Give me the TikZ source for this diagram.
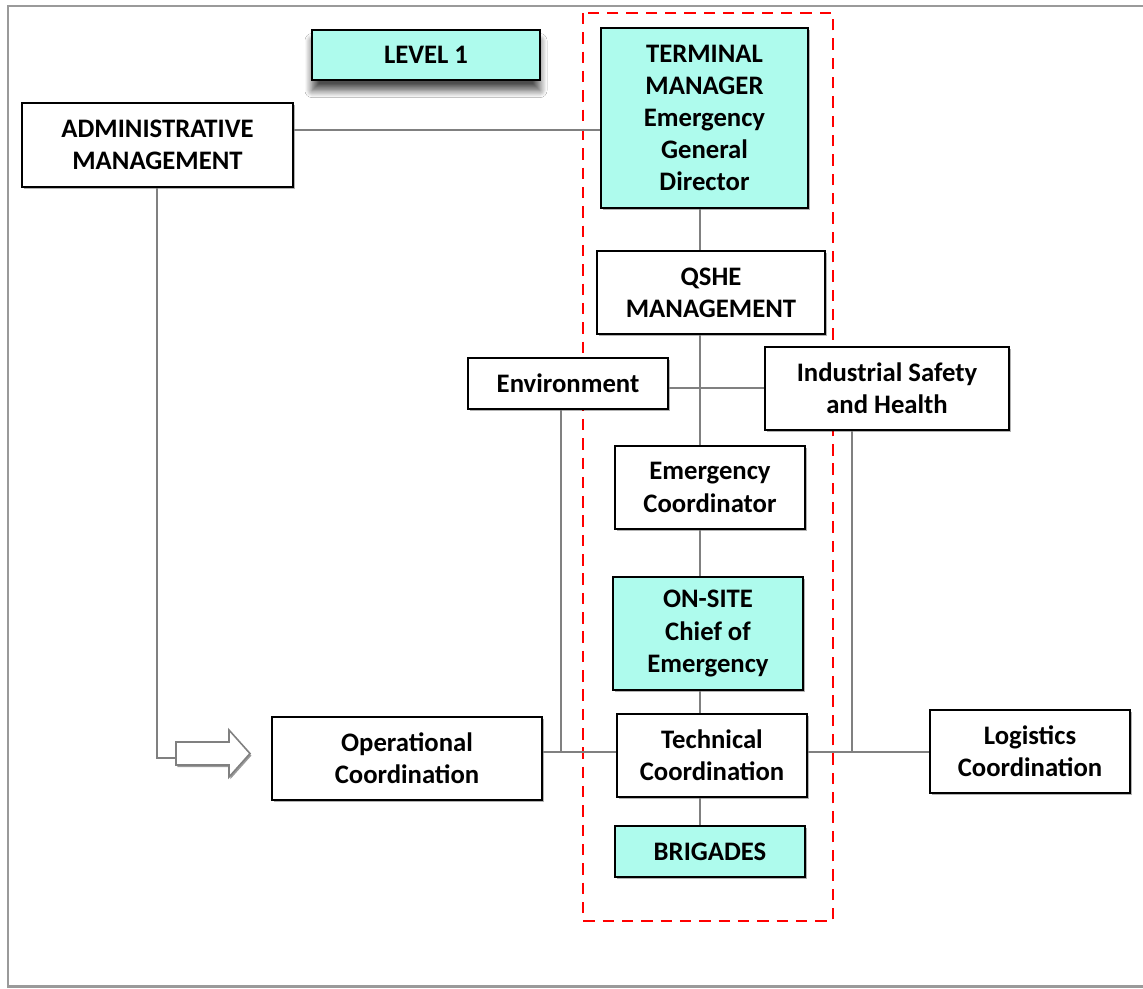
\documentclass[tikz,border=0pt]{standalone}
\usepackage{fontspec}
\setmainfont{Carlito}
\usetikzlibrary{shadows,shadows.blur}
\definecolor{cyanfill}{RGB}{174,251,237}
\definecolor{linegray}{RGB}{128,128,128}
\begin{document}
\begin{tikzpicture}[x=0.02cm,y=-0.02cm,
  box/.style={draw=black, line width=1.1pt, fill=white, align=center, inner sep=2pt,
    font=\fontsize{15.2}{18.3}\selectfont\bfseries,
    drop shadow={shadow xshift=1.2pt, shadow yshift=-1.2pt, opacity=0.3, fill=black}},
  cbox/.style={box, fill=cyanfill},
  conn/.style={draw=linegray, line width=1pt},
]
\useasboundingbox (0,0) rectangle (1143,988);
\fill[white] (0,0) rectangle (1143,988);
% outer frame (left, top, bottom visible)
\draw[linegray!80, line width=1.7pt] (1143,6) -- (8,6) -- (8,986) -- (1143,986);

% red dashed frame
\draw[red, line width=1.6pt, dash pattern=on 6.5pt off 4.5pt] (583,13) rectangle (833,921);

% nodes
\node[draw=black, line width=1.1pt, fill=cyanfill, align=center,
  font=\fontsize{15.2}{18.3}\selectfont\bfseries,
  minimum width=4.56cm, minimum height=1.0cm,
  blur shadow={shadow xshift=0pt, shadow yshift=-6pt, shadow opacity=70, shadow blur steps=10, shadow blur radius=4pt}] (lvl) at (426,55) {LEVEL 1};
\node[box, minimum width=5.42cm, minimum height=1.68cm] (admin) at (157.5,145) {ADMINISTRATIVE\\MANAGEMENT};
\node[cbox, minimum width=4.14cm, minimum height=3.6cm] (term) at (704.5,118) {TERMINAL\\MANAGER\\Emergency\\General\\Director};
\node[box, minimum width=4.56cm, minimum height=1.66cm] (qshe) at (711,292.5) {QSHE\\MANAGEMENT};
\node[box, minimum width=4.0cm, minimum height=1.02cm] (env) at (568,383.5) {Environment};
\node[box, minimum width=4.88cm, minimum height=1.66cm] (ind) at (887,388.5) {Industrial Safety\\and Health};
\node[box, minimum width=3.8cm, minimum height=1.66cm] (emc) at (710,487.5) {Emergency\\Coordinator};
\node[cbox, minimum width=3.8cm, minimum height=2.26cm] (onsite) at (708,633.5) {ON-SITE\\Chief of\\Emergency};
\node[box, minimum width=3.8cm, minimum height=1.66cm] (tech) at (712,755.5) {Technical\\Coordination};
\node[cbox, minimum width=3.8cm, minimum height=1.02cm] (brig) at (710,851.5) {BRIGADES};
\node[box, minimum width=5.4cm, minimum height=1.66cm] (oper) at (407,758.5) {Operational\\Coordination};
\node[box, minimum width=4.0cm, minimum height=1.66cm] (logi) at (1030,751.5) {Logistics\\Coordination};

% helper coordinates
\coordinate (vx) at (700,0);
\coordinate (h130) at (0,130);
\coordinate (h388) at (0,388);
\coordinate (h752) at (0,752);
\coordinate (ej) at (561,752);
\coordinate (ij) at (852,752);
\coordinate (ax) at (157,0);
\coordinate (atail) at (176,758);

% connectors
\draw[conn] (admin.east |- h130) -- (term.west |- h130);
\draw[conn] (term.south -| vx) -- (qshe.north -| vx);
\draw[conn] (qshe.south -| vx) -- (emc.north -| vx);
\draw[conn] (env.east |- h388) -- (ind.west |- h388);
\draw[conn] (emc.south -| vx) -- (onsite.north -| vx);
\draw[conn] (onsite.south -| vx) -- (tech.north -| vx);
\draw[conn] (tech.south -| vx) -- (brig.north -| vx);
\draw[conn] (oper.east |- h752) -- (tech.west |- h752);
\draw[conn] (tech.east |- h752) -- (logi.west |- h752);
\draw[conn] (env.south -| ej) -- (ej);
\draw[conn] (ind.south -| ij) -- (ij);
\draw[conn] (admin.south -| ax) |- (atail);

% hollow arrow
\draw[linegray, line width=0.9pt, fill=white, line join=miter,
  drop shadow={shadow xshift=0.8pt, shadow yshift=-1.2pt, opacity=0.4, fill=black}]
  (176,742) -- (229,742) -- (229,730) -- (250,753.5) -- (229,777) -- (229,765) -- (176,765) -- cycle;
\end{tikzpicture}
\end{document}
